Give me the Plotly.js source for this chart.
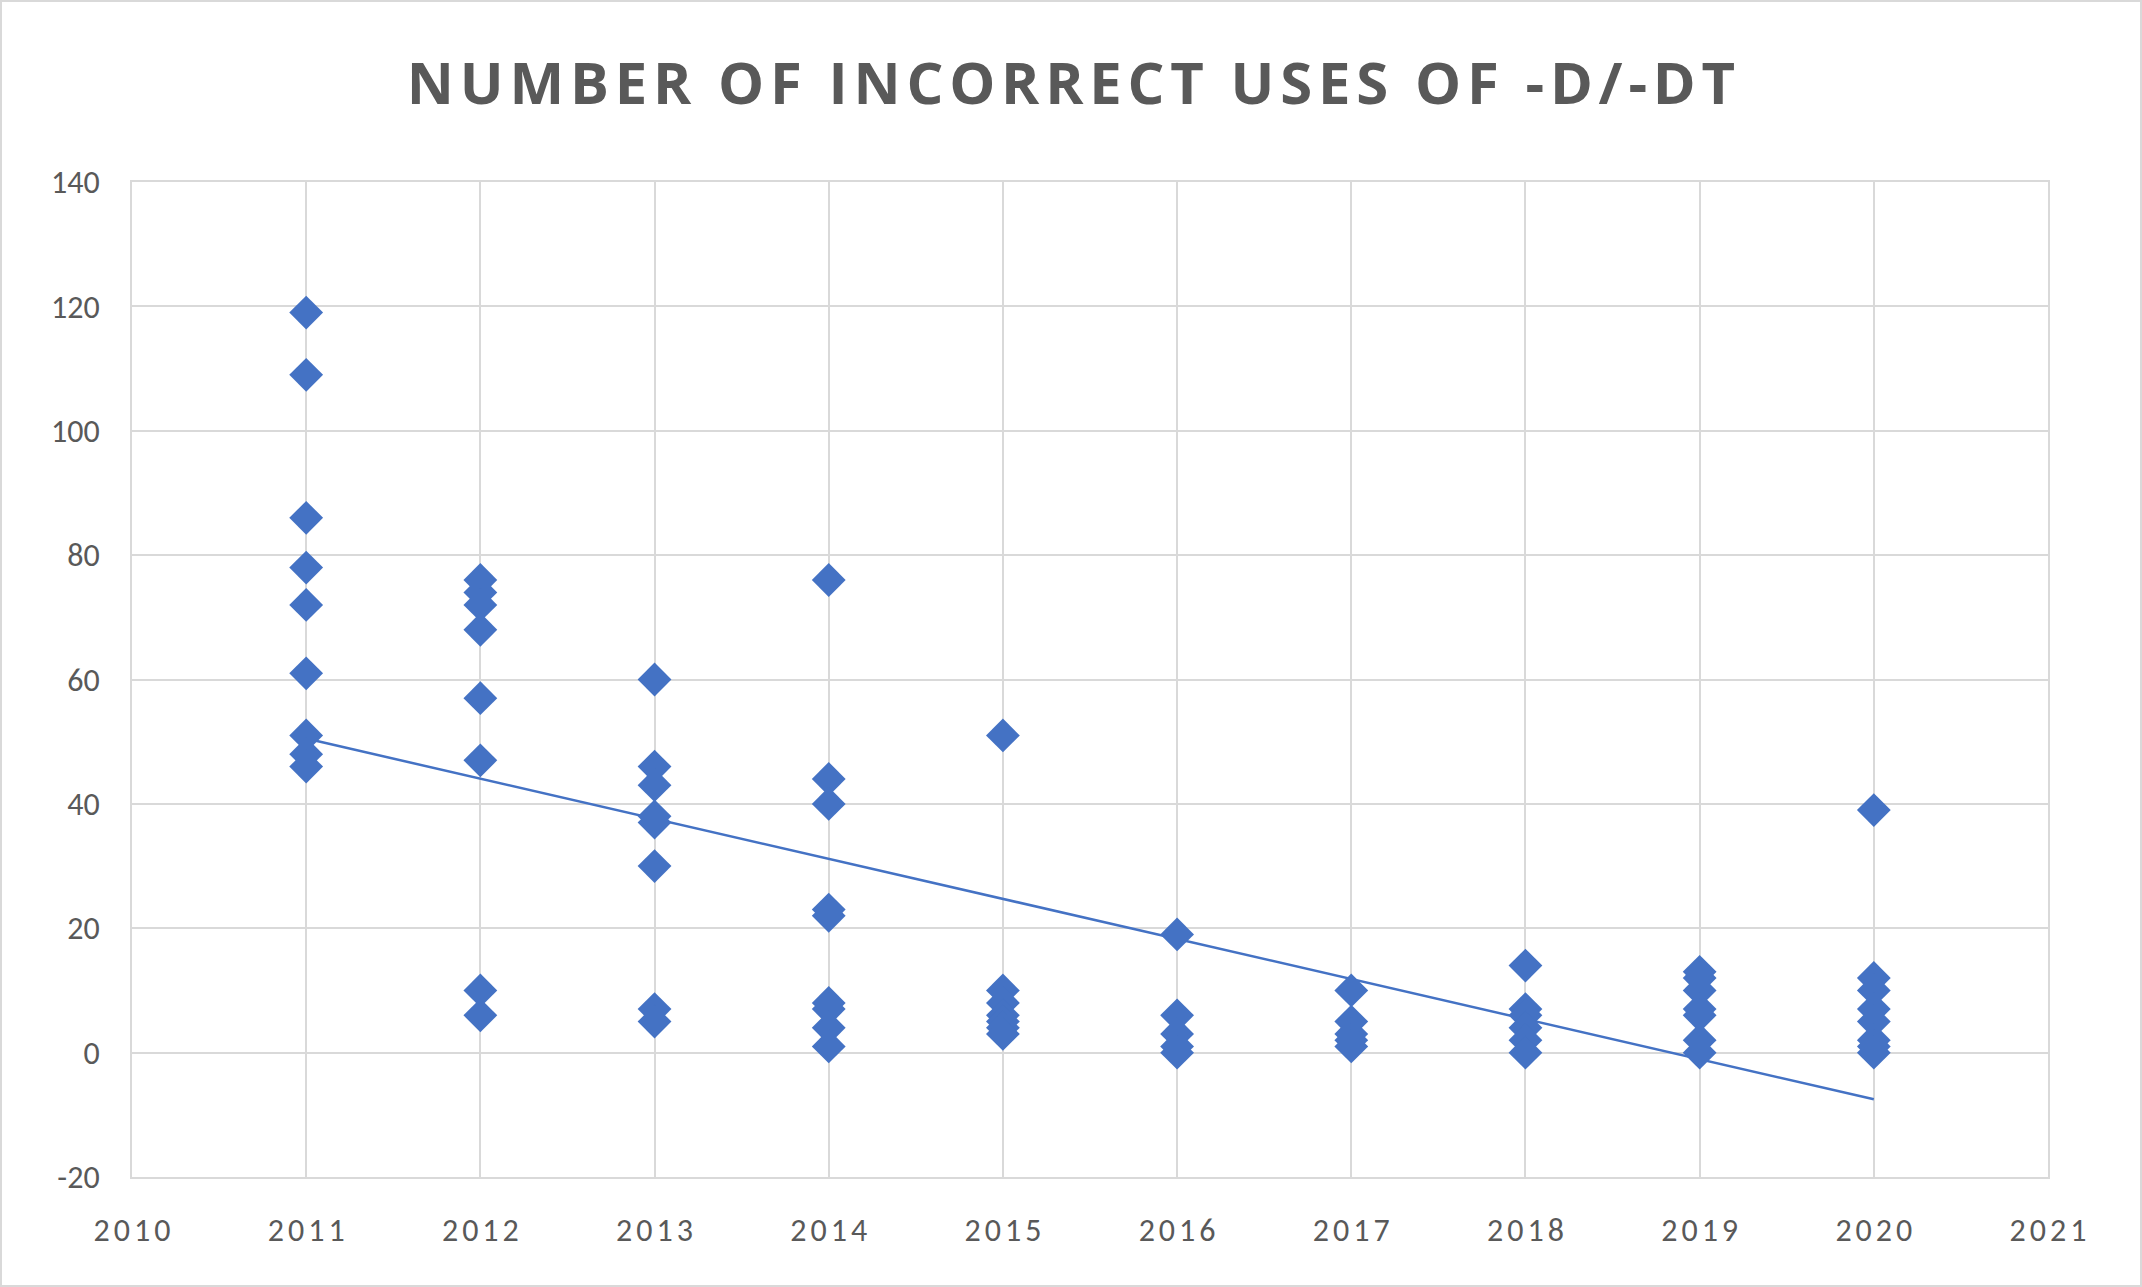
<!DOCTYPE html>
<html>
<head>
<meta charset="utf-8">
<script src="https://cdn.plot.ly/plotly-3.0.1.min.js"></script>
<style>
  html, body { margin: 0; padding: 0; background: #fff; }
  #chart { width: 2142px; height: 1287px; box-sizing: border-box; border: 2px solid #d9d9d9; }
</style>
</head>
<body>
<div id="chart"></div>
<script>
// ── Data ─────────────────────────────────────────────────────────────
const years = [2011, 2012, 2013, 2014, 2015, 2016, 2017, 2018, 2019, 2020];
const counts2011 = [119, 109, 86, 78, 72, 61, 51, 48, 46];
const counts2012 = [76, 74, 72, 68, 57, 47, 10, 6];
const counts2013 = [60, 46, 43, 38, 37, 30, 7, 5];
const counts2014 = [76, 44, 40, 23, 22, 8, 7, 4, 1];
const counts2015 = [51, 10, 8, 6, 5, 4, 3];
const counts2016 = [19, 6, 3, 1, 0];
const counts2017 = [10, 5, 3, 2, 1];
const counts2018 = [14, 7, 6, 4, 2, 0];
const counts2019 = [13, 12, 10, 7, 6, 2, 0];
const counts2020 = [39, 12, 10, 7, 5, 2, 1, 0];
const countsByYear = [counts2011, counts2012, counts2013, counts2014, counts2015,
                      counts2016, counts2017, counts2018, counts2019, counts2020];

// Trendline ends (at 2011 and 2020)
const trendYears = [2011, 2020];
const trendValues = [50.5, -7.5];

const xTicks = [2010, 2011, 2012, 2013, 2014, 2015, 2016, 2017, 2018, 2019, 2020, 2021];
const yTicks = [-20, 0, 20, 40, 60, 80, 100, 120, 140];

const xs = [];
const ys = [];
countsByYear.forEach((list, i) => {
    list.forEach(v => { xs.push(years[i]); ys.push(v); });
});

const spaced = s => s.split('').join('\u200A');

const blue = '#4472c4';
const axisFont = { family: 'Calibri, Carlito, "Open Sans", sans-serif', size: 32, color: '#595959' };

const traces = [
    {
        x: trendYears, y: trendValues, type: 'scatter', mode: 'lines',
        line: { color: blue, width: 2.5 }, hoverinfo: 'skip'
    },
    {
        x: xs, y: ys, type: 'scatter', mode: 'markers',
        marker: { symbol: 'diamond', color: blue, size: 26 }
    }
];

const layout = {
    width: 2138, height: 1283,
    title: {
        text: spaced('NUMBER OF INCORRECT USES OF -D/-DT'),
        font: { family: '"Open Sans", sans-serif', size: 58, color: '#595959', weight: 'bold' },
        x: 0.5, xanchor: 'center', y: 0.936, yanchor: 'middle'
    },
    showlegend: false,
    margin: { l: 130, r: 92, t: 180, b: 108 },
    paper_bgcolor: '#fff', plot_bgcolor: '#fff',
    xaxis: {
        range: [2010, 2021], tickmode: 'array', tickvals: xTicks,
        ticktext: xTicks.map(t => spaced(String(t))),
        showgrid: true, gridcolor: '#d9d9d9', gridwidth: 2,
        zeroline: false, showline: true, linecolor: '#d9d9d9', linewidth: 2, mirror: true,
        tickfont: axisFont, ticks: '', ticklabelstandoff: 24
    },
    yaxis: {
        range: [-20, 140], tickmode: 'array', tickvals: yTicks,
        ticktext: yTicks.map(t => String(t)),
        showgrid: true, gridcolor: '#d9d9d9', gridwidth: 2,
        zeroline: false, showline: true, linecolor: '#d9d9d9', linewidth: 2, mirror: true,
        tickfont: axisFont, ticks: '', ticklabelstandoff: 24
    }
};

Plotly.newPlot('chart', traces, layout, { staticPlot: true });
</script>
</body>
</html>
